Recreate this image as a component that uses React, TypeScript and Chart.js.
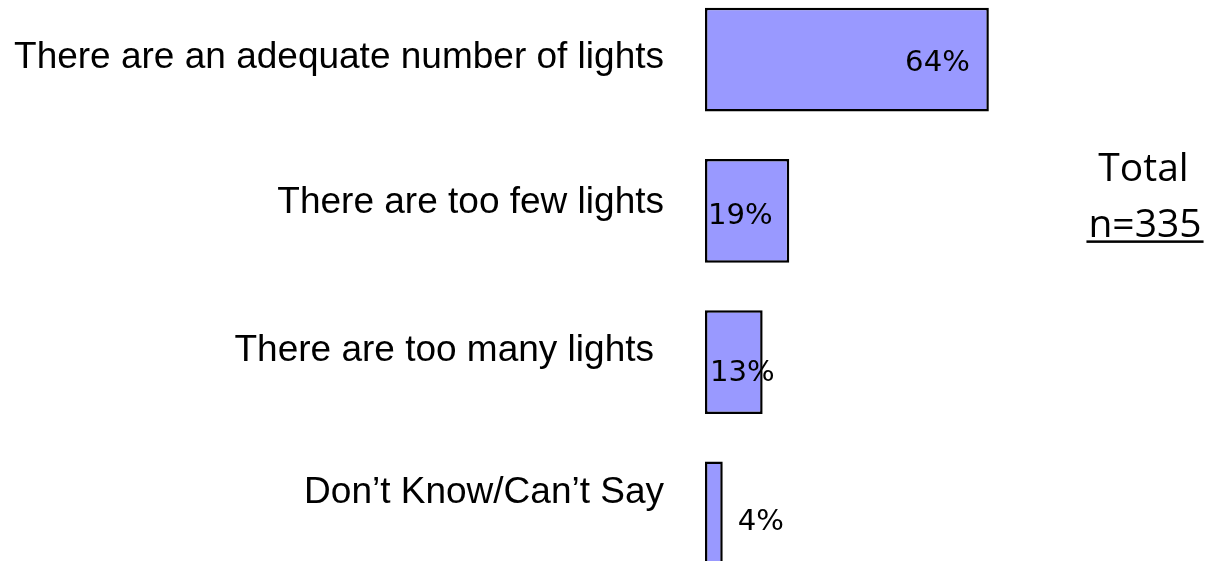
import React, { useEffect, useRef } from "react";
import { Chart, registerables } from "chart.js";

Chart.register(...registerables);

const categories = [
  "There are an adequate number of lights",
  "There are too few lights",
  "There are too many lights",
  "Don\u2019t Know/Can\u2019t Say",
];
const values = [64, 19, 13, 4];
const valueLabels = ["64%", "19%", "13%", "4%"];
const totalTitle = "Total";
const totalN = "n=335";

function drawStretched(ctx: CanvasRenderingContext2D, text: string, x: number, y: number, align: "left" | "right" | "center", sx: number) {
  const w = ctx.measureText(text).width * sx;
  let left = x;
  if (align === "right") left = x - w;
  else if (align === "center") left = x - w / 2;
  ctx.save();
  ctx.textAlign = "left";
  ctx.translate(left, y);
  ctx.scale(sx, 1);
  ctx.fillText(text, 0, 0);
  ctx.restore();
}

export default function App() {
  const ref = useRef<HTMLCanvasElement>(null);

  useEffect(() => {
    document.body.style.margin = "0";
    document.body.style.overflow = "hidden";
    const canvas = ref.current;
    if (!canvas) return;

    const labelsPlugin = {
      id: "customLabels",
      afterDatasetsDraw(chart: any) {
        const ctx = chart.ctx as CanvasRenderingContext2D;
        const xs = chart.scales.x;
        const ys = chart.scales.y;
        const left = chart.chartArea.left;
        ctx.save();
        ctx.fillStyle = "#000";
        ctx.textBaseline = "alphabetic";

        // category labels
        ctx.font = "37px 'Liberation Sans', Arial, sans-serif";
        const labelDy = [8, 2, -1, -10];
        categories.forEach((c, i) => {
          const y = ys.getPixelForValue(i);
          const right = left - (i === 2 ? 51 : 41);
          drawStretched(ctx, c, right, y + labelDy[i], "right", 1);
        });

        // value labels
        ctx.font = "28px 'DejaVu Sans', Verdana, sans-serif";
        const sx = 1.04;
        values.forEach((v, i) => {
          const y = ys.getPixelForValue(i);
          const xEnd = xs.getPixelForValue(v);
          const x0 = xs.getPixelForValue(0);
          if (v > 50) {
            drawStretched(ctx, valueLabels[i], xEnd - 19, y + 11.5, "right", sx);
          } else if (v > 10) {
            drawStretched(ctx, valueLabels[i], x0 + 3 + (i === 2 ? 2 : 0), y + (i === 2 ? 19 : 13), "left", sx);
          } else {
            drawStretched(ctx, valueLabels[i], xEnd + 15, y + 17, "left", sx);
          }
        });

        // Total n=
        ctx.font = "39px 'Open Sans', sans-serif";
        const cx = 1145;
        const yRef = ys.getPixelForValue(1);
        drawStretched(ctx, totalTitle, cx - 1.5, yRef - 30, "center", 1);
        drawStretched(ctx, totalN, cx, yRef + 26, "center", 1);
        const w = ctx.measureText(totalN).width;
        ctx.fillRect(cx - w / 2 - 2, yRef + 29.5, w + 4, 2.5);
        ctx.restore();
      },
    };

    const chart = new Chart(canvas, {
      type: "bar",
      data: {
        labels: categories,
        datasets: [
          {
            data: values,
            backgroundColor: "#9999FF",
            borderColor: "#000000",
            borderWidth: 2.5,
            borderSkipped: false,
            barPercentage: 0.685,
            categoryPercentage: 1,
          },
        ],
      },
      options: {
        indexAxis: "y",
        responsive: false,
        animation: false,
        layout: { padding: { left: 705, right: 60.5, top: 0, bottom: 0 } },
        plugins: { legend: { display: false }, tooltip: { enabled: false } },
        scales: {
          x: { display: false, min: 0, max: 100 },
          y: { display: false },
        },
      },
      plugins: [labelsPlugin],
    });
    return () => chart.destroy();
  }, []);

  return (
    <div style={{ position: "fixed", left: 0, top: 0, width: 1209, height: 561, overflow: "hidden", background: "#fff" }}>
      <div style={{ position: "absolute", left: 0, top: -16, width: 1209, height: 605 }}>
        <canvas ref={ref} width={1209} height={605} style={{ width: 1209, height: 605, display: "block" }} />
      </div>
    </div>
  );
}
